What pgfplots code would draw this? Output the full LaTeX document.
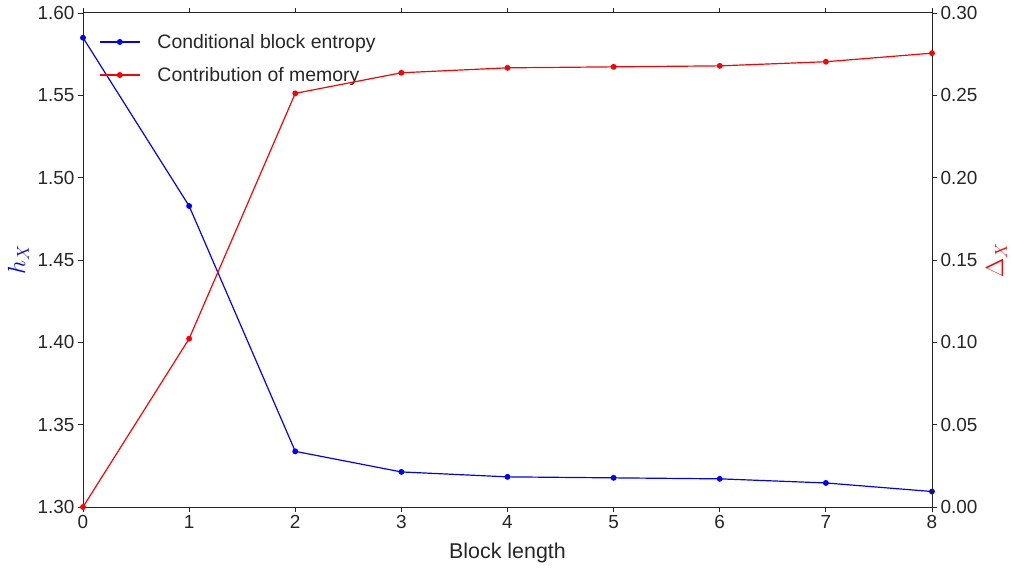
\documentclass[border=0pt]{standalone}
\usepackage{pgfplots}
\pgfplotsset{compat=1.18}
\usepackage{fontspec}
\setmainfont{Liberation Sans}
\definecolor{axgray}{RGB}{38,38,38}
\begin{document}
\begin{tikzpicture}
\useasboundingbox (-83bp,-61bp) rectangle (928bp,507bp);
\pgfplotsset{
  common/.style={
    scale only axis, width=849bp, height=494bp,
    at={(0,0)}, anchor=south west,
    xmin=0, xmax=8,
    axis line style={axgray, line width=1pt},
    tick style={axgray, line width=0.8pt},
    major tick length=5bp,
    tick align=outside,
    ticklabel style={font=\fontsize{19}{22}\selectfont, text=axgray},
    /pgf/number format/assume math mode=true,
    /pgf/number format/fixed, /pgf/number format/fixed zerofill,
    /pgf/number format/precision=2,
  }
}
\begin{axis}[common,
  ymin=1.30, ymax=1.60,
  ytick={1.30,1.35,...,1.601},
  ytick pos=left, xtick pos=both,
  xtick={0,...,8},
  xticklabel style={/pgf/number format/precision=0, /pgf/number format/fixed zerofill=false},
  xlabel={Block length},
  xlabel style={font=\fontsize{21.5}{24}\selectfont, text=axgray, yshift=-7bp},
  ylabel={\color{blue}$h_X$},
  ylabel style={font=\fontsize{25}{27}\selectfont, yshift=2bp},
  legend style={at={(rel axis cs:0,1)}, anchor=north west, xshift=13bp, yshift=-17bp,
    draw=none, fill=none, font=\fontsize{19.5}{22}\selectfont, text=axgray,
    row sep=13.5bp, column sep=15bp},
  legend cell align=left,
  legend image code/.code={\draw[line width=1.3pt, mark repeat=2,mark phase=2] plot coordinates {(0bp,0bp)(20bp,0bp)(40bp,0bp)};},
]
\addplot[blue, line width=1.2pt, mark=*, mark size=2.3bp] coordinates {
(0,1.585) (1,1.4828) (2,1.3338) (3,1.3213) (4,1.3183) (5,1.3177) (6,1.3171) (7,1.3146) (8,1.3094)};
\addlegendentry{Conditional block entropy}
\addlegendimage{red, line width=1.3pt, mark=*, mark size=2.3bp}
\addlegendentry{Contribution of memory}
\end{axis}
\begin{axis}[common,
  ymin=0, ymax=0.30,
  ytick={0,0.05,...,0.301},
  axis x line=none,
  axis y line*=right,
  ylabel={\color{red}$\Delta_X$},
  ylabel style={font=\fontsize{25}{27}\selectfont, rotate=0, yshift=-2bp},
]
\addplot[red, line width=1.2pt, mark=*, mark size=2.3bp] coordinates {
(0,0) (1,0.1022) (2,0.2512) (3,0.2637) (4,0.2667) (5,0.2673) (6,0.2679) (7,0.2704) (8,0.2756)};
\end{axis}
\end{tikzpicture}
\end{document}
